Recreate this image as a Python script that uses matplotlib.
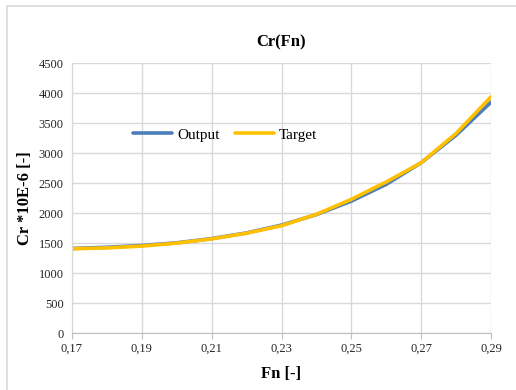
import matplotlib.pyplot as plt
import matplotlib.patches as mpatches
from matplotlib.ticker import FuncFormatter

# Residual resistance coefficient vs Froude number
fn = [0.17, 0.18, 0.19, 0.20, 0.21, 0.22, 0.23, 0.24, 0.25, 0.26, 0.27, 0.28, 0.29]
cr_output = [1410, 1430, 1460, 1505, 1575, 1670, 1800, 1975, 2200, 2480, 2840, 3300, 3850]
cr_target = [1405, 1420, 1450, 1500, 1570, 1665, 1790, 1980, 2230, 2520, 2840, 3330, 3940]

x_ticks = [0.17, 0.19, 0.21, 0.23, 0.25, 0.27, 0.29]
y_ticks = list(range(0, 4501, 500))

plt.rcParams['font.family'] = ['Liberation Serif', 'DejaVu Serif']

fig = plt.figure(figsize=(5.16, 3.90), dpi=100)
fig.patch.set_facecolor('white')
ax = fig.add_axes([0.1395, 0.146, 0.8121, 0.692])

ax.plot(fn, cr_output, color='#4A7EBB', linewidth=2.6, label='Output',
        solid_capstyle='round')
ax.plot(fn, cr_target, color='#FFC000', linewidth=2.6, label='Target',
        solid_capstyle='round')

ax.set_xlim(0.17, 0.29)
ax.set_ylim(0, 4500)
ax.set_xticks(x_ticks)
ax.set_yticks(y_ticks)
ax.xaxis.set_major_formatter(FuncFormatter(lambda v, p: f'{v:.2f}'.replace('.', ',')))
ax.tick_params(axis='both', labelsize=9, colors='#262626')
ax.tick_params(axis='y', length=0, pad=6)
ax.tick_params(axis='x', length=4, color='#BFBFBF', pad=3)
ax.grid(True, color='#D9D9D9', linewidth=1)
ax.set_axisbelow(True)
for side in ['top', 'right']:
    ax.spines[side].set_visible(False)
ax.spines['left'].set_color('#D9D9D9')
ax.spines['bottom'].set_color('#BFBFBF')

ax.set_title('Cr(Fn)', fontsize=12, fontweight='bold', pad=12)
ax.set_xlabel('Fn [-]', fontsize=12, fontweight='bold', labelpad=8)
ax.set_ylabel('Cr *10E-6 [-]', fontsize=12, fontweight='bold', labelpad=4)

ax.legend(loc='center', bbox_to_anchor=(0.365, 0.735), ncol=2, frameon=False,
          fontsize=11, handlelength=2.6, handletextpad=0.3, columnspacing=1.0)

# light border round the chart
fig.patches.append(mpatches.Rectangle((0.014, -0.01), 1.0, 0.995,
                                      transform=fig.transFigure, fill=False,
                                      edgecolor='#D9D9D9', linewidth=1.2))

fig.savefig('out.png', dpi=100)
